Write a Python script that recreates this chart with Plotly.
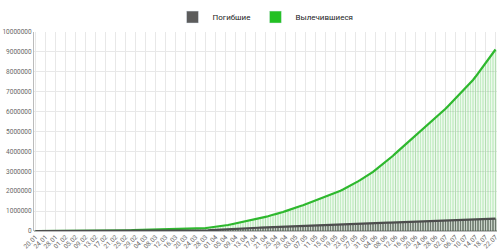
import datetime as dt
import plotly.graph_objects as go

start = dt.date(2020, 1, 20)
dates = [(start + dt.timedelta(days=i)).strftime("%d.%m") for i in range(185)]

deaths = [
    6, 9, 17, 25, 41, 56, 80, 106, 132, 170, 213, 259,
    304, 362, 426, 492, 565, 638, 724, 813, 910, 1018, 1115, 1261, 1383, 1526, 1669, 1775, 1873, 2009,
    2126, 2247, 2360, 2460, 2618, 2699, 2763, 2800, 2858, 2923, 2977,
    3050, 3117, 3202, 3285, 3387, 3494, 3599, 3827, 4025, 4296, 4628, 4981, 5428, 5833, 6520, 7165,
    7954, 8954, 10031, 11385, 13018, 14758, 16755, 19156, 21813, 24837, 28306, 31935, 35345, 39515, 44379,
    50332, 56214, 62266, 68174, 73131, 78757, 86500, 93052, 100259, 107474, 113820, 119257, 125008,
    132484, 140950, 148340, 157213, 163504, 168554, 173911, 181072, 187844, 194477, 200732, 206283,
    210011, 214176, 220795, 227652, 233388,
    238745, 243981, 247549, 251309, 257270, 263716, 269579, 275140, 279628, 283271, 286904, 292529,
    297790, 303148, 308628, 313013, 316578, 320129, 324957, 330048, 335171, 340398, 345039, 348229,
    351359, 356125, 361725, 366513, 371307, 375540, 378623,
    381700, 387019, 392325, 397579, 402404, 406600, 409392, 412782, 417658, 422631, 427467, 432200,
    436580, 439950, 443650, 450360, 455590, 460340, 465550, 470080, 474020, 477810, 482990, 488230,
    495460, 500590, 505140, 508160, 511720, 516970,
    521990, 527070, 532050, 536330, 539870, 543750, 549470, 555110, 560590, 566000, 571040, 575210,
    579360, 585320, 591000, 596660, 601700, 606270, 609560, 613240, 617340, 621180,
]

recovered = [
    25, 28, 30, 34, 39, 52, 61, 107, 126, 143, 222, 284,
    472, 623, 852, 1124, 1487, 2011, 2616, 3244, 3946, 4683, 5150, 6295, 8058, 9395, 10865, 12583,
    14352, 16121, 18177, 18890, 22886, 23394, 25227, 27905, 30384, 33277, 36711, 39782, 42716,
    45602, 48228, 51170, 53796, 55865, 58358, 60694, 62494, 64404, 67003, 68324, 70251, 72624, 76034,
    78088, 80840, 83207, 84854, 87256, 91499, 97704, 98351, 107990, 113787, 122150, 130915, 139415,
    149082, 164566, 178034, 193177,
    210263, 225796, 247472, 264841, 280152, 301020, 328619, 353975, 376096, 402110, 421722, 448655,
    474261, 510561, 541951, 568343, 591854, 623903, 645738, 679819, 710263, 738486, 789014, 817486,
    845056, 893967, 924808, 951394, 997519, 1046000,
    1091000, 1130000, 1168000, 1215000, 1255000, 1292000, 1340000, 1378000, 1428000, 1469000, 1514000,
    1561000, 1607000, 1660000, 1705000, 1757000, 1803000, 1857000, 1909000, 1965000, 2025000, 2085000,
    2148000, 2214000, 2275000, 2335000, 2410000, 2495000, 2570000, 2645000, 2720000,
    2800000, 2885000, 2975000, 3075000, 3170000, 3265000, 3360000, 3460000, 3560000, 3670000, 3780000,
    3900000, 4010000, 4120000, 4225000, 4335000, 4455000, 4565000, 4675000, 4785000, 4885000, 4990000,
    5100000, 5220000, 5330000, 5450000, 5560000, 5660000, 5770000, 5890000,
    6010000, 6140000, 6270000, 6400000, 6510000, 6630000, 6770000, 6910000, 7050000, 7190000, 7330000,
    7460000, 7590000, 7750000, 7920000, 8090000, 8260000, 8440000, 8600000, 8760000, 8940000, 9120000,
]

tick_labels = dates[::4]
name_deaths = "Погибшие"
name_recovered = "Вылечившиеся"

fig = go.Figure()
# bars (no legend)
fig.add_trace(go.Bar(x=dates, y=recovered, name=name_recovered, showlegend=False,
                     marker=dict(color="rgba(46,190,46,0.28)", line=dict(width=0))))
fig.add_trace(go.Bar(x=dates, y=deaths, name=name_deaths, showlegend=False,
                     marker=dict(color="rgba(80,80,80,0.75)", line=dict(width=0))))
# top lines
fig.add_trace(go.Scatter(x=dates, y=recovered, mode="lines", showlegend=False,
                         line=dict(color="#2eb82e", width=2.2)))
fig.add_trace(go.Scatter(x=dates, y=deaths, mode="lines", showlegend=False,
                         line=dict(color="#4d4d4d", width=2.2)))
# legend entries (solid swatches)
fig.add_trace(go.Bar(x=[None], y=[None], name=name_deaths, legendrank=1,
                     marker=dict(color="#5c5c5c")))
fig.add_trace(go.Bar(x=[None], y=[None], name=name_recovered, legendrank=2,
                     marker=dict(color="#22c022")))

fig.update_layout(
    width=500, height=250,
    margin=dict(l=34, r=3, t=28, b=19),
    paper_bgcolor="white", plot_bgcolor="white",
    barmode="overlay", bargap=0.35,
    font=dict(family="Roboto, Arial, sans-serif", size=8, color="#333"),
    legend=dict(orientation="h", x=0.5, xanchor="center", y=1.075, yanchor="middle",
                font=dict(size=8, color="#222"), itemwidth=30, bgcolor="rgba(0,0,0,0)"),
    showlegend=True,
)
fig.update_xaxes(type="category", tickmode="array", tickvals=tick_labels, ticktext=tick_labels,
                 tickangle=-45, tickfont=dict(size=6.5, color="#666"),
                 showgrid=True, gridcolor="#e8e8e8", gridwidth=1,
                 showline=False, ticks="", automargin=False, range=[-0.6, 184.6])
fig.update_yaxes(range=[0, 10000000], dtick=1000000, tickformat="d",
                 tickfont=dict(size=6.5, color="#666"), showgrid=True, gridcolor="#e8e8e8",
                 showline=True, linecolor="#bbbbbb", linewidth=1, zeroline=True,
                 zerolinecolor="#bbbbbb", ticks="", automargin=False)

fig.write_html("out.html")
